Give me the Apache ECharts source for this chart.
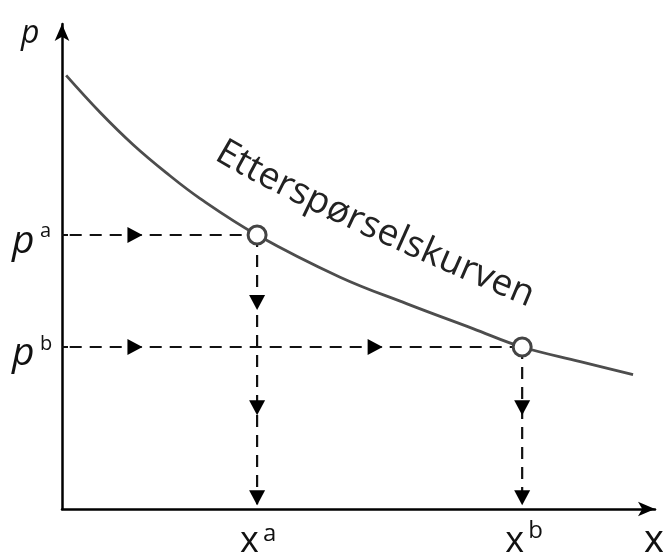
<!DOCTYPE html>
<html>
<head>
<meta charset="utf-8">
<script src="https://cdn.jsdelivr.net/npm/echarts@6/dist/echarts.min.js"></script>
<style>
  html, body { margin: 0; padding: 0; background: #fff; }
  #main { width: 663px; height: 554px; }
</style>
</head>
<body>
<div id="main"></div>
<script>
// demand curve (x = quantity, y = price, 0..100)
var demandX = [0.7, 6.4, 12.0, 17.5, 23.3, 32.9, 46.9, 58.2, 69.3, 77.6, 87.4, 96.3];
var demandY = [89.4, 81.8, 75.1, 69.4, 64.0, 56.5, 47.8, 42.3, 37.2, 33.4, 30.4, 27.7];

// the two marked points a and b
var pointNames = ['a', 'b'];
var pointX = [32.9, 77.6];
var pointY = [56.5, 33.4];

// arrow heads on the dashed guides
var rightArrowX = [[12.3], [12.3, 52.8]];
var downArrowY = [[42.6, 20.9, 2.3], [20.9, 2.3]];

// where the guides start / stop near the axes
var guideStartX = 1.3;
var guideEndY = 1.0;

var curveLabel = 'Etterspørselskurven';
var fontFam = '"Open Sans", "DejaVu Sans", sans-serif';

var myChart = echarts.init(document.getElementById('main'));

var demandData = demandX.map(function (x, i) { return [x, demandY[i]]; });

var series = [];
series.push({
    type: 'line',
    data: demandData,
    smooth: 0.4,
    showSymbol: false,
    silent: true,
    lineStyle: { color: '#4d4d4d', width: 2.8 },
    z: 3
});

var dash = { color: '#111', width: 2.2, type: [12, 8] };
pointNames.forEach(function (n, i) {
    // horizontal guide from the price axis to the point
    series.push({
        type: 'line', silent: true, showSymbol: false,
        data: [[guideStartX, pointY[i]], [pointX[i], pointY[i]]],
        lineStyle: dash, z: 2
    });
    // vertical guide from the point down to the quantity axis
    series.push({
        type: 'line', silent: true, showSymbol: false,
        data: [[pointX[i], pointY[i]], [pointX[i], guideEndY]],
        lineStyle: dash, z: 2
    });
});

var rightArrows = [], downArrows = [];
pointNames.forEach(function (n, i) {
    rightArrowX[i].forEach(function (x) { rightArrows.push([x, pointY[i]]); });
    downArrowY[i].forEach(function (y) { downArrows.push([pointX[i], y]); });
});
series.push({
    type: 'scatter', silent: true, data: rightArrows,
    symbol: 'triangle', symbolSize: [16, 15], symbolRotate: -90,
    itemStyle: { color: '#000', opacity: 1 }, z: 4
});
series.push({
    type: 'scatter', silent: true, data: downArrows,
    symbol: 'triangle', symbolSize: [16, 15], symbolRotate: 180,
    itemStyle: { color: '#000', opacity: 1 }, z: 4
});

series.push({
    type: 'scatter', silent: true,
    data: pointX.map(function (x, i) { return [x, pointY[i]]; }),
    symbol: 'circle', symbolSize: 18,
    itemStyle: { color: '#fff', borderColor: '#444', borderWidth: 3, opacity: 1 },
    z: 5
});

function makeAxis(extra) {
    return Object.assign({
        type: 'value',
        min: 0,
        max: 100,
        axisLine: {
            show: true,
            symbol: ['none', 'arrow'],
            symbolSize: [11, 17],
            lineStyle: { color: '#000', width: 2.5 }
        },
        axisTick: { show: false },
        axisLabel: { show: false },
        splitLine: { show: false }
    }, extra || {});
}

option = {
    backgroundColor: '#fff',
    animation: false,
    grid: { left: 62, top: 24, right: 8, bottom: 45 },
    xAxis: makeAxis(),
    yAxis: makeAxis({
        // little nubs on the price axis at p^a and p^b
        axisTick: {
            show: true, inside: true, length: 6,
            customValues: pointY,
            lineStyle: { color: '#111', width: 2 }
        }
    }),
    series: series
};
myChart.setOption(option);

// ---- labels (placed from the chart's own scales) ----
function px(x, y) { return myChart.convertToPixel({ gridIndex: 0 }, [x, y]); }
function txt(str, x, y, size, italic, align) {
    return {
        type: 'text', x: x, y: y, silent: true,
        style: {
            text: str, fill: '#111',
            fontSize: size,
            fontFamily: fontFam,
            fontStyle: italic ? 'italic' : 'normal',
            align: align || 'left', verticalAlign: 'middle'
        }
    };
}

var graphics = [];
var origin = px(0, 0);
// axis names
graphics.push(txt('p', origin[0] - 41, 34, 32, true));
graphics.push(txt('x', 644, 541, 38, false));

pointNames.forEach(function (n, i) {
    var py = px(0, pointY[i]);
    graphics.push(txt('p', py[0] - 50, py[1] + 7, 39, true));
    graphics.push(txt(n, py[0] - 22, py[1] + (n === 'a' ? -4 : -3), 20, false));
    var qx = px(pointX[i], 0);
    graphics.push(txt('x', qx[0] - 17, 542, 36, false));
    graphics.push(txt(n, qx[0] + 6, n === 'a' ? 534 : 531, 24, false));
});

// curved curve label: letters laid along a gentle arc above the curve
(function () {
    var P0 = [213, 160], P1 = [302, 213], P2 = [528, 308];
    var fs = 37;
    function bez(t) {
        var u = 1 - t;
        return [u * u * P0[0] + 2 * u * t * P1[0] + t * t * P2[0],
                u * u * P0[1] + 2 * u * t * P1[1] + t * t * P2[1]];
    }
    var N = 400, pts = [], cum = [0];
    for (var k = 0; k <= N; k++) pts.push(bez(k / N));
    for (k = 1; k <= N; k++) {
        cum.push(cum[k - 1] + Math.hypot(pts[k][0] - pts[k - 1][0], pts[k][1] - pts[k - 1][1]));
    }
    var L = cum[N];
    function at(s) {
        var k = 1;
        while (k < N && cum[k] < s) k++;
        var a = pts[k - 1], b = pts[k];
        var f = (s - cum[k - 1]) / ((cum[k] - cum[k - 1]) || 1);
        var ang = Math.atan2(b[1] - a[1], b[0] - a[0]);
        return { x: a[0] + (b[0] - a[0]) * f, y: a[1] + (b[1] - a[1]) * f, ang: ang };
    }
    var ctx = document.createElement('canvas').getContext('2d');
    ctx.font = fs + 'px ' + fontFam;
    var chars = curveLabel.split('');
    var widths = chars.map(function (c) { return ctx.measureText(c).width; });
    var total = widths.reduce(function (a, b) { return a + b; }, 0);
    var gap = (L - total) / (chars.length - 1);
    var s = 0;
    chars.forEach(function (c, i) {
        var p = at(s + widths[i] / 2);
        var up = 0.32 * fs;
        var nx = Math.sin(p.ang), ny = -Math.cos(p.ang);
        graphics.push({
            type: 'text', silent: true,
            x: p.x + nx * up, y: p.y + ny * up,
            rotation: -p.ang,
            style: {
                text: c, fill: '#222',
                fontSize: fs, fontFamily: fontFam,
                align: 'center', verticalAlign: 'middle'
            }
        });
        s += widths[i] + gap;
    });
})();

myChart.setOption({ graphic: graphics });

window.addEventListener('resize', function () {
    myChart.resize();
});
</script>
</body>
</html>
